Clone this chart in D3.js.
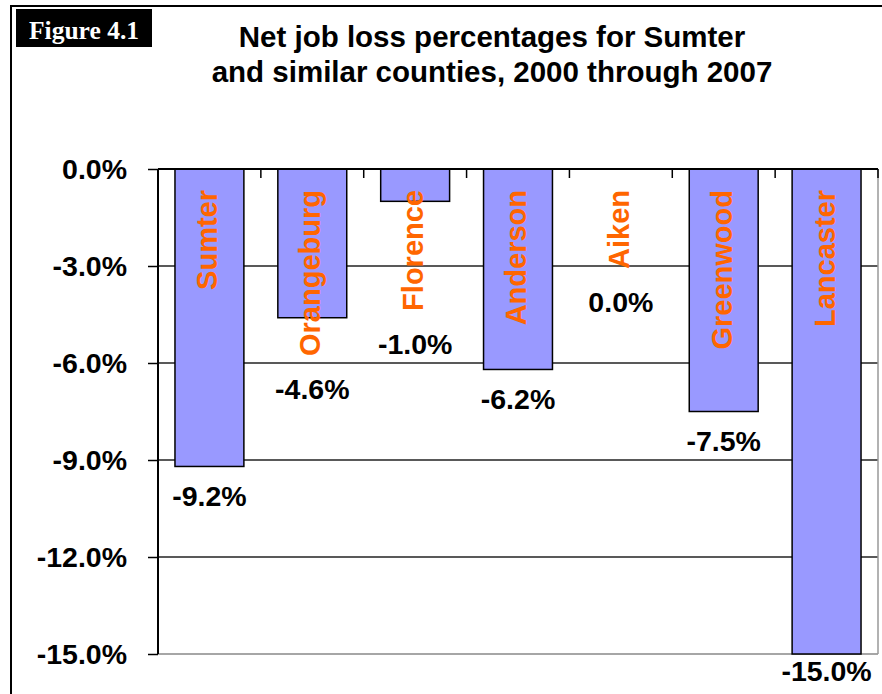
<!DOCTYPE html>
<html>
<head>
<meta charset="utf-8">
<script src="https://cdn.jsdelivr.net/npm/d3@7"></script>
<style>
  html, body { margin: 0; padding: 0; background: #fff; }
  svg { display: block; }
  text { font-family: "Liberation Sans", Arial, sans-serif; font-weight: bold; }
</style>
</head>
<body>
<svg id="chart" width="882" height="694"></svg>
<script>
// Counties compared and their net job change, 2000 through 2007 (percent)
const counties = ["Sumter", "Orangeburg", "Florence", "Anderson", "Aiken", "Greenwood", "Lancaster"];
const netChange = [-9.2, -4.6, -1.0, -6.2, 0.0, -7.5, -15.0];
const yTicks = [0, -3, -6, -9, -12, -15];
const titleLines = ["Net job loss percentages for Sumter", "and similar counties, 2000 through 2007"];
const figureLabel = "Figure 4.1";

const svg = d3.select("#chart");
const plot = { left: 158, right: 878, top: 169, bottom: 654 };

const x = d3.scaleBand()
  .domain(counties)
  .range([plot.left, plot.right])
  .paddingInner(0.33)
  .paddingOuter(0.165);

const y = d3.scaleLinear()
  .domain([0, -15])
  .range([plot.top, plot.bottom]);

const fmt = d => d.toFixed(1) + "%";

// outer frame (only its left and top edges fall inside the page)
svg.append("rect")
  .attr("x", 11).attr("y", 6)
  .attr("width", 900).attr("height", 720)
  .attr("fill", "none").attr("stroke", "#000").attr("stroke-width", 2);

// figure tag
svg.append("rect")
  .attr("x", 16).attr("y", 9).attr("width", 136).attr("height", 38)
  .attr("fill", "#000");
svg.append("text")
  .attr("x", 84).attr("y", 39)
  .attr("text-anchor", "middle")
  .attr("fill", "#fff")
  .style("font-family", "'Liberation Serif', 'Times New Roman', serif")
  .style("font-size", "25.5px")
  .text(figureLabel);

// title
svg.append("g").selectAll("text")
  .data(titleLines)
  .join("text")
  .attr("x", 492)
  .attr("y", (d, i) => 47 + i * 35)
  .attr("text-anchor", "middle")
  .attr("fill", "#000")
  .style("font-size", "29.5px")
  .text(d => d);

// horizontal gridlines
svg.append("g").selectAll("line")
  .data(yTicks.filter(t => t !== 0 && t !== -15))
  .join("line")
  .attr("x1", plot.left).attr("x2", plot.right)
  .attr("y1", d => y(d)).attr("y2", d => y(d))
  .attr("stroke", "#222").attr("stroke-width", 1.5);

// plot area bottom and right edges
svg.append("line")
  .attr("x1", plot.left).attr("x2", plot.right)
  .attr("y1", y(-15)).attr("y2", y(-15))
  .attr("stroke", "#888").attr("stroke-width", 1.5);
svg.append("line")
  .attr("x1", plot.right).attr("x2", plot.right)
  .attr("y1", plot.top).attr("y2", y(-15))
  .attr("stroke", "#999").attr("stroke-width", 1.5);

// bars
svg.append("g").selectAll("rect")
  .data(counties)
  .join("rect")
  .attr("x", d => x(d))
  .attr("width", x.bandwidth())
  .attr("y", (d, i) => Math.min(y(0), y(netChange[i])))
  .attr("height", (d, i) => Math.abs(y(netChange[i]) - y(0)))
  .attr("fill", "#9999FF")
  .attr("stroke", "#000")
  .attr("stroke-width", 1.5);

// category axis along the zero line, ticks pointing down between categories
const step = x.step();
const boundaries = d3.range(counties.length + 1).map(i => plot.left + i * step);
svg.append("g").selectAll("line")
  .data(boundaries.slice(1))
  .join("line")
  .attr("x1", d => d).attr("x2", d => d)
  .attr("y1", y(0)).attr("y2", y(0) + 9)
  .attr("stroke", "#000").attr("stroke-width", 1.5);
svg.append("line")
  .attr("x1", plot.left).attr("x2", plot.right)
  .attr("y1", y(0)).attr("y2", y(0))
  .attr("stroke", "#000").attr("stroke-width", 2);

// value axis
const yAxis = svg.append("g")
  .attr("transform", `translate(${plot.left},0)`)
  .call(d3.axisLeft(y).tickValues(yTicks).tickFormat(fmt).tickSize(10).tickPadding(21));
yAxis.select(".domain").attr("stroke", "#000").attr("stroke-width", 2)
  .attr("d", `M0,${y(0)}V${y(-15)}`);
yAxis.selectAll(".tick line").attr("stroke", "#000").attr("stroke-width", 1.5);
yAxis.selectAll(".tick text")
  .attr("fill", "#000")
  .attr("dy", "0.35em")
  .style("font-family", "'Liberation Sans', Arial, sans-serif")
  .style("font-weight", "bold")
  .style("font-size", "28.5px");

// county names, rotated, hanging from the top of each column
const nameTop = 190;
const names = svg.append("g").selectAll("text")
  .data(counties)
  .join("text")
  .attr("transform", d => `translate(${x(d) + x.bandwidth() / 2 + 8},${nameTop}) rotate(-90)`)
  .attr("text-anchor", "end")
  .attr("fill", "#FF6600")
  .style("font-size", "29px")
  .text(d => d);

const nameEnds = [];
names.each(function () { nameEnds.push(nameTop + this.getComputedTextLength()); });

// value labels below the bar end or the county name, whichever is lower
svg.append("g").selectAll("text")
  .data(counties)
  .join("text")
  .attr("x", d => x(d) + x.bandwidth() / 2)
  .attr("y", (d, i) => Math.min(Math.max(y(netChange[i]) + 39.5, nameEnds[i] + 43.5), 681))
  .attr("text-anchor", "middle")
  .attr("fill", "#000")
  .style("font-size", "28.5px")
  .text((d, i) => fmt(netChange[i]));
</script>
</body>
</html>
